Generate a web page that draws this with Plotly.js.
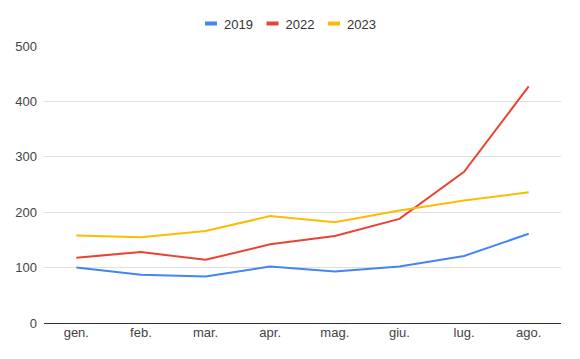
<!DOCTYPE html>
<html>
<head>
<meta charset="utf-8">
<script src="https://cdn.plot.ly/plotly-3.0.1.min.js"></script>
<style>html,body{margin:0;padding:0;background:#fff;}#chart{width:580px;height:359px;}</style>
</head>
<body>
<div id="chart"></div>
<script>
const months = ["gen.", "feb.", "mar.", "apr.", "mag.", "giu.", "lug.", "ago."];
const s2019 = [100, 87, 84, 102, 93, 102, 121, 161];
const s2022 = [118, 128, 114, 142, 157, 188, 273, 427];
const s2023 = [158, 155, 166, 193, 182, 203, 221, 236];
const seriesNames = ["2019", "2022", "2023"];
const colors = ["#4285F4", "#EA4335", "#FBBC04"];
const yTicks = [0, 100, 200, 300, 400, 500];

const data = [s2019, s2022, s2023].map((vals, i) => ({
  x: months, y: vals, name: seriesNames[i], type: "scatter", mode: "lines",
  line: {color: colors[i], width: 2}, hoverinfo: "none"
}));

const layout = {
  width: 580, height: 359,
  margin: {l: 44, r: 19, t: 46, b: 36, autoexpand: false},
  paper_bgcolor: "#fff", plot_bgcolor: "#fff",
  font: {family: "Liberation Sans, Arial, sans-serif", size: 13, color: "#444"},
  showlegend: true,
  legend: {orientation: "h", x: 0.5, xanchor: "center", y: 1.087, yanchor: "middle",
    font: {size: 13, color: "#333"}, itemwidth: 30},
  xaxis: {type: "category", range: [-0.5, 7.5], showgrid: false, zeroline: false,
    showline: false, ticks: "", tickfont: {size: 13, color: "#444"}, fixedrange: true},
  yaxis: {range: [0, 500], tickvals: yTicks, ticktext: yTicks.map(String),
    showgrid: true, gridcolor: "#e0e0e0", gridwidth: 1, zeroline: true,
    zerolinecolor: "#333", zerolinewidth: 1, ticks: "", ticklabelstandoff: 6,
    tickfont: {size: 13, color: "#444"}, fixedrange: true}
};

function parseT(s) {
  const m = /translate\(\s*([-\d.e]+)[ ,]+([-\d.e]+)\s*\)/.exec(s || "");
  return m ? [parseFloat(m[1]), parseFloat(m[2])] : [0, 0];
}

Plotly.newPlot("chart", data, layout, {displayModeBar: false, staticPlot: true}).then(gd => {
  try {
    const items = gd.querySelectorAll(".legend .traces");
    if (!items.length) return;
    const base = parseT(items[0].getAttribute("transform"));
    items.forEach((g, i) => {
      const p = g.querySelector(".legendlines path");
      if (p) { p.setAttribute("d", "M0,0h12"); p.style.strokeWidth = "4px"; }
      const t = g.querySelector("text.legendtext");
      if (t) t.setAttribute("x", 19);
      const tr = parseT(g.getAttribute("transform"));
      g.setAttribute("transform", "translate(" + (base[0] + i * 61.5) + "," + tr[1] + ")");
    });
    const p0 = items[0].querySelector(".legendlines path").getBoundingClientRect();
    const leg = gd.querySelector(".legend");
    const lt = parseT(leg.getAttribute("transform"));
    const dx = 205 - p0.left;
    const dy = 23.5 - (p0.top + p0.height / 2);
    leg.setAttribute("transform", "translate(" + (lt[0] + dx) + "," + (lt[1] + dy) + ")");
  } catch (e) {}
});
</script>
</body>
</html>
